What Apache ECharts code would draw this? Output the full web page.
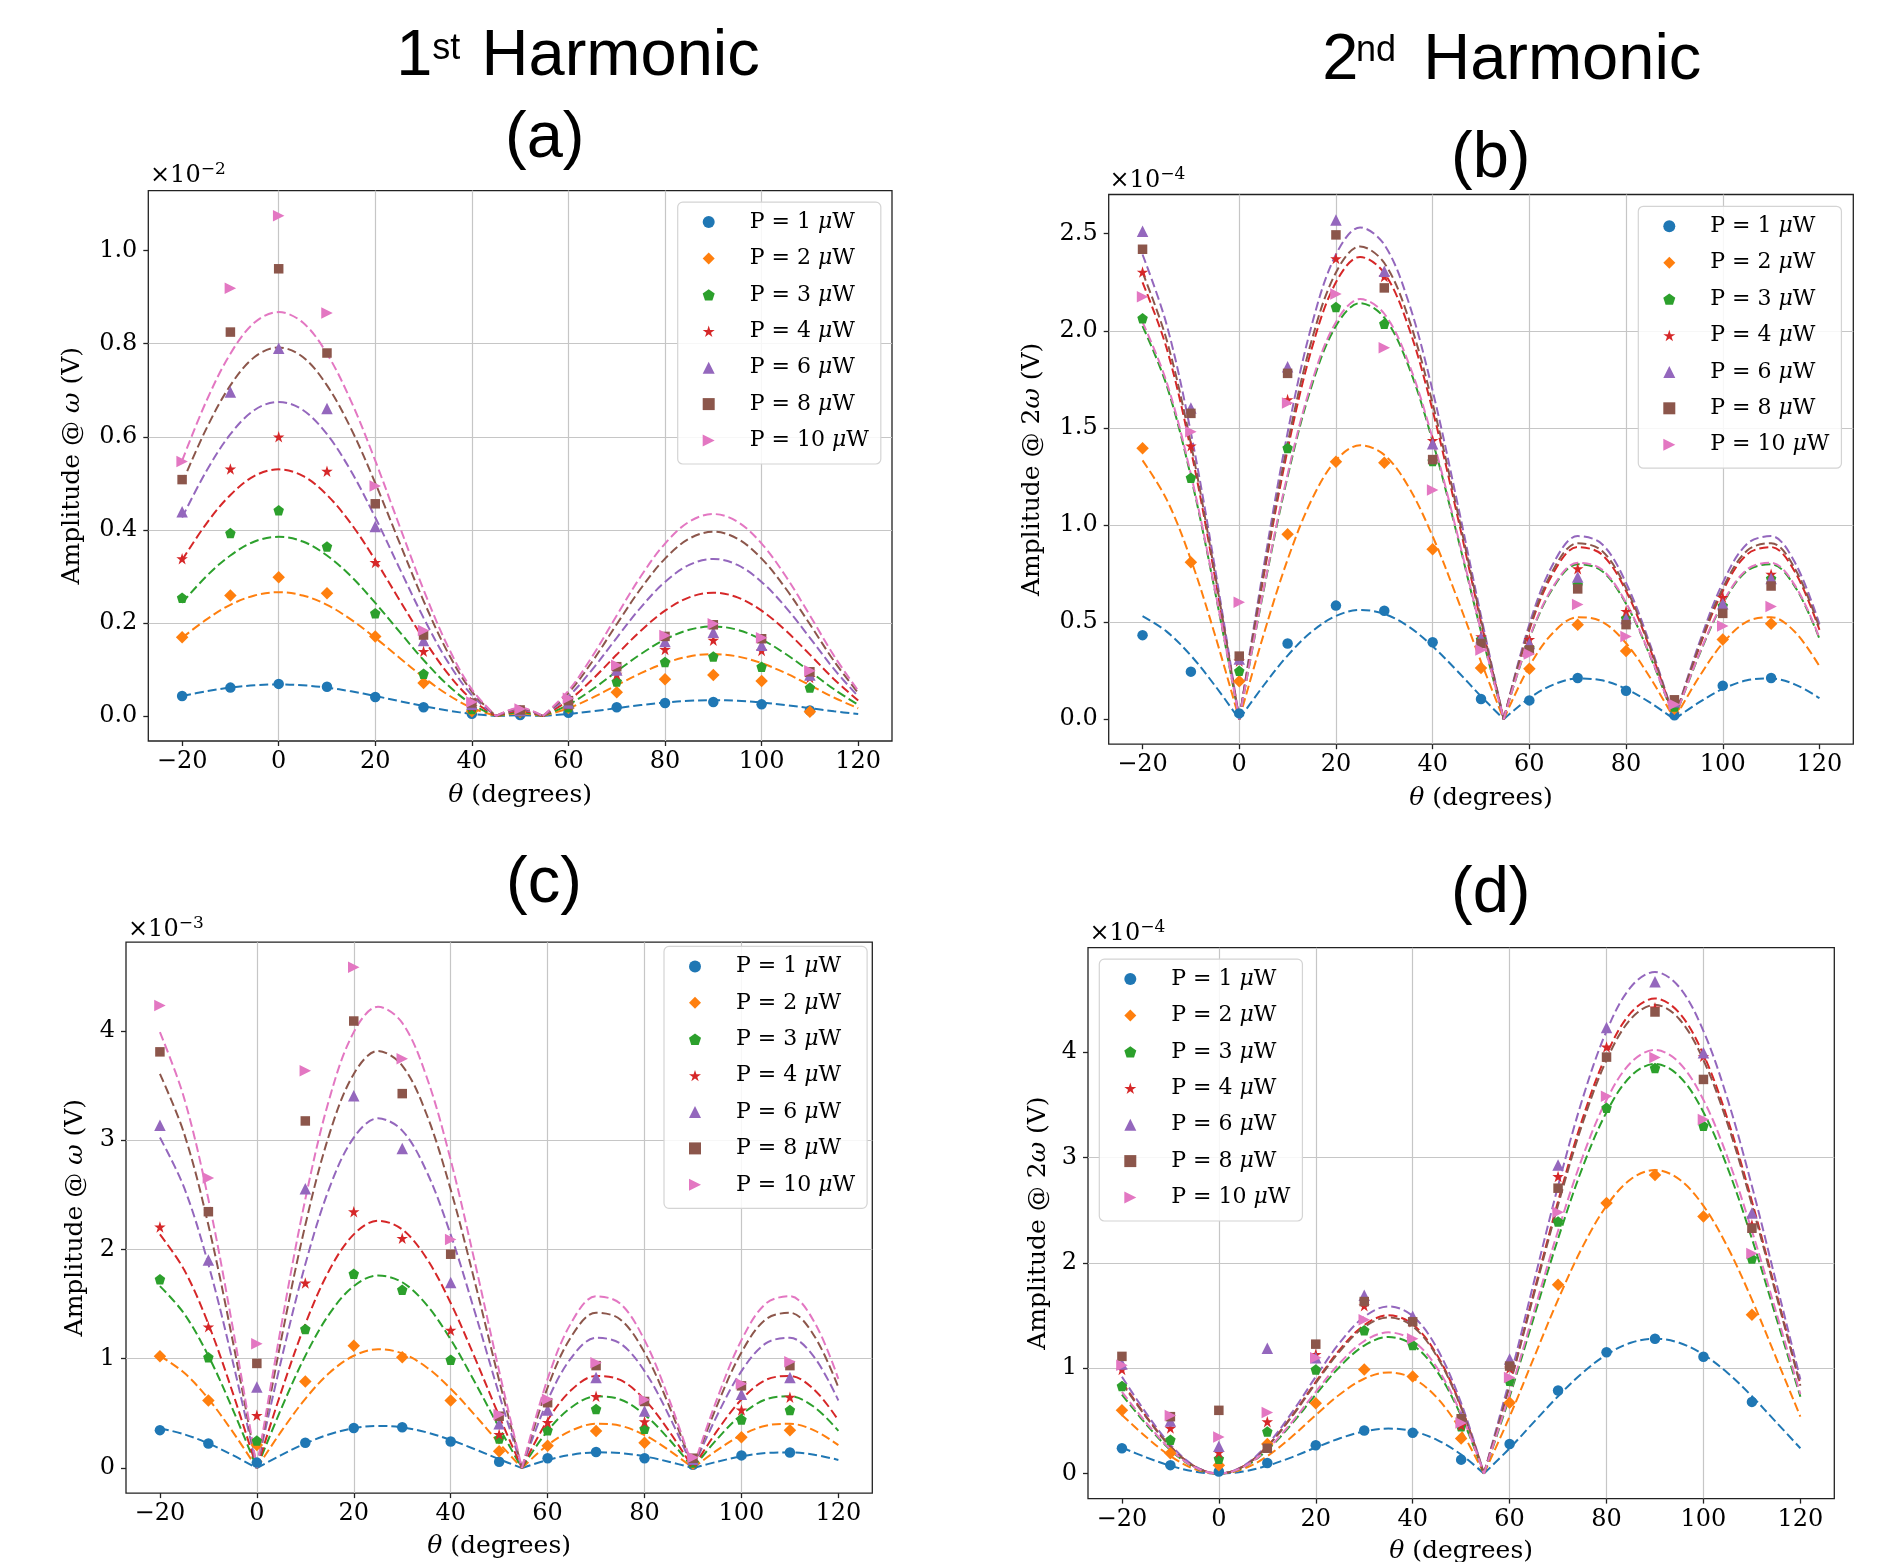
<!DOCTYPE html>
<html><head><meta charset="utf-8">
<script src="https://cdn.jsdelivr.net/npm/echarts@6/dist/echarts.min.js"></script>
<style>html,body{margin:0;padding:0;background:#fff}#c{width:1896px;height:1562px}</style>
</head><body><div id="c"></div>
<script>
const SERIES_NAMES = ['P = 1 μW','P = 2 μW','P = 3 μW','P = 4 μW','P = 6 μW','P = 8 μW','P = 10 μW'];
const THETA_PTS = [-20,-10,0,10,20,30,40,50,60,70,80,90,100,110];
const THETA_FIT = [-20,-15,-10,-5,0,5,10,15,20,25,30,35,40,45,50,54.7,60,65,70,75,80,85,90,95,100,105,110,115,120];
const X_TICKS = [-20,0,20,40,60,80,100,120];
const Y_TICKS_A = [0,0.2,0.4,0.6,0.8,1.0];
const Y_TICKS_B = [0,0.5,1,1.5,2,2.5];
const Y_TICKS_C = [0,1,2,3,4];
const Y_TICKS_D = [0,1,2,3,4];

// ---- panel (a): 1st harmonic, amplitude @ ω (×1e-2)
const ptsA_p1 = [.043,.061,.069,.063,.041,.019,.005,.002,.007,.019,.028,.030,.025,.012];
const ptsA_p2 = [.169,.259,.298,.264,.171,.071,.010,.008,.017,.051,.079,.088,.075,.009];
const ptsA_p3 = [.254,.393,.442,.364,.221,.091,.015,.010,.019,.074,.116,.128,.106,.061];
const ptsA_p4 = [.338,.531,.600,.526,.330,.139,.020,.010,.024,.090,.143,.163,.141,.083];
const ptsA_p6 = [.439,.696,.790,.661,.407,.162,.025,.012,.028,.099,.160,.180,.152,.088];
const ptsA_p8 = [.508,.825,.961,.780,.456,.174,.028,.013,.033,.106,.171,.196,.166,.095];
const ptsA_p10 = [.547,.919,1.075,.866,.494,.184,.030,.015,.038,.109,.173,.198,.168,.097];
const fitA_p1 = [.043,.053,.061,.066,.068,.066,.061,.053,.043,.032,.0213,.0118,.0045,0,.0014,0,.0043,.0101,.0169,.0235,.029,.0327,.034,.0327,.029,.0235,.0169,.0101,.0043];
const fitA_p2 = [.168,.207,.239,.259,.266,.259,.239,.207,.168,.1253,.0831,.046,.0176,0,.0056,0,.0166,.0396,.0662,.092,.1136,.128,.133,.128,.1136,.092,.0662,.0396,.0166];
const fitA_p3 = [.243,.300,.345,.375,.385,.375,.345,.300,.243,.1813,.1203,.0666,.0254,0,.0081,0,.0241,.0574,.0959,.1332,.1644,.1852,.1925,.1852,.1644,.1332,.0959,.0574,.0241];
const fitA_p4 = [.335,.413,.475,.516,.530,.516,.475,.413,.335,.2496,.1656,.0917,.035,0,.0111,0,.0331,.079,.132,.1834,.2263,.2549,.265,.2549,.2263,.1834,.132,.079,.0331];
const fitA_p6 = [.4266,.5258,.6055,.6575,.675,.6575,.6055,.5258,.4266,.3179,.2109,.1168,.0446,0,.0142,0,.0422,.1006,.1681,.2336,.2882,.3247,.3375,.3247,.2882,.2336,.1681,.1006,.0422];
const fitA_p8 = [.5005,.617,.7104,.7714,.792,.7714,.7104,.617,.5005,.373,.2475,.137,.0523,0,.0166,0,.0495,.118,.1972,.274,.3382,.381,.396,.381,.3382,.274,.1972,.118,.0495];
const fitA_p10 = [.5486,.6762,.7786,.8454,.868,.8454,.7786,.6762,.5486,.4088,.2713,.1502,.0573,0,.0182,0,.0543,.1293,.2161,.3003,.3706,.4175,.434,.4175,.3706,.3003,.2161,.1293,.0543];

// ---- panel (b): 2nd harmonic, amplitude @ 2ω (×1e-4)
const ptsB_p1 = [.433,.245,.03,.390,.585,.559,.396,.104,.097,.212,.147,.02,.173,.212];
const ptsB_p2 = [1.395,.808,.195,.953,1.326,1.321,.875,.264,.260,.487,.351,.054,.411,.491];
const ptsB_p3 = [2.065,1.244,.249,1.397,2.123,2.036,1.33,.41,.368,.693,.52,.065,.584,.725];
const ptsB_p4 = [2.303,1.408,.30,1.646,2.372,2.28,1.436,.426,.411,.775,.556,.09,.628,.747];
const ptsB_p6 = [2.513,1.603,.31,1.815,2.571,2.307,1.419,.42,.39,.732,.519,.09,.595,.725];
const ptsB_p8 = [2.420,1.575,.325,1.781,2.494,2.221,1.337,.39,.357,.671,.487,.10,.545,.686];
const ptsB_p10 = [2.175,1.480,.602,1.629,2.190,1.913,1.181,.357,.336,.591,.426,.076,.480,.580];
const fitB_p1 = [.5315,.451,.3277,.1723,0,.1723,.3277,.451,.5315,.5624,.5427,.4774,.3755,.2505,.1182,0,.1087,.1785,.2094,.2004,.156,.085,0,.085,.156,.2004,.2094,.1785,.1087];
const fitB_p2 = [1.333,1.131,.8218,.4321,0,.4321,.8218,1.131,1.333,1.4106,1.3612,1.1974,.9418,.6283,.2965,0,.2725,.4476,.5253,.5027,.3911,.2132,0,.2132,.3911,.5027,.5253,.4476,.2725];
const fitB_p3 = [2.0249,1.7181,1.2484,.6564,0,.6564,1.2484,1.7181,2.0249,2.1429,2.0678,1.819,1.4307,.9545,.4505,0,.414,.68,.7979,.7636,.5942,.3239,0,.3239,.5942,.7636,.7979,.68,.414];
const fitB_p4 = [2.2497,1.9088,1.3869,.7292,0,.7292,1.3869,1.9088,2.2497,2.3806,2.2972,2.0208,1.5895,1.0604,.5004,0,.4599,.7554,.8865,.8483,.6601,.3598,0,.3598,.6601,.8483,.8865,.7554,.4599];
const fitB_p6 = [2.393,2.0305,1.4754,.7757,0,.7757,1.4754,2.0305,2.393,2.5325,2.4437,2.1497,1.6908,1.1281,.5324,0,.4893,.8036,.943,.9025,.7022,.3828,0,.3828,.7022,.9025,.943,.8036,.4893];
const fitB_p8 = [2.3005,1.9521,1.4183,.7457,0,.7457,1.4183,1.9521,2.3005,2.4346,2.3493,2.0666,1.6255,1.0845,.5118,0,.4703,.7725,.9066,.8676,.675,.368,0,.368,.675,.8676,.9066,.7725,.4703];
const fitB_p10 = [2.0447,1.735,1.2606,.6628,0,.6628,1.2606,1.735,2.0447,2.1638,2.088,1.8368,1.4447,.9639,.4549,0,.418,.6866,.8058,.7711,.6,.3271,0,.3271,.6,.7711,.8058,.6866,.418];

// ---- panel (c): 1st harmonic (×1e-3)
const ptsC_p1 = [.347,.224,.05,.231,.366,.374,.243,.058,.089,.147,.089,.03,.116,.143];
const ptsC_p2 = [1.022,.617,.212,.791,1.119,1.014,.617,.154,.204,.339,.231,.04,.282,.347];
const ptsC_p3 = [1.728,1.014,.251,1.273,1.778,1.632,.991,.27,.347,.540,.359,.05,.444,.532];
const ptsC_p4 = [2.206,1.292,.482,1.693,2.345,2.102,1.261,.309,.417,.656,.424,.06,.532,.648];
const ptsC_p6 = [3.136,1.902,.741,2.554,3.406,2.924,1.697,.405,.532,.829,.521,.08,.675,.829];
const ptsC_p8 = [3.807,2.345,.957,3.175,4.089,3.425,1.956,.474,.598,.937,.609,.09,.752,.937];
const ptsC_p10 = [4.231,2.654,1.138,3.634,4.582,3.745,2.091,.49,.629,.964,.625,.096,.771,.972];
const fitC_p1 = [.3644,.3092,.2247,.1181,0,.1181,.2247,.3092,.3644,.3856,.3721,.3273,.2575,.1718,.0811,0,.0745,.1224,.1436,.1374,.1069,.0583,0,.0583,.1069,.1374,.1436,.1224,.0745];
const fitC_p2 = [1.0271,.8715,.6332,.3329,0,.3329,.6332,.8715,1.0271,1.0869,1.0488,.9226,.7257,.4842,.2285,0,.21,.3449,.4047,.3873,.3014,.1643,0,.1643,.3014,.3873,.4047,.3449,.21];
const fitC_p3 = [1.6643,1.4122,1.0261,.5395,0,.5395,1.0261,1.4122,1.6643,1.7612,1.6995,1.495,1.1759,.7845,.3702,0,.3403,.5589,.6558,.6276,.4884,.2662,0,.2662,.4884,.6276,.6558,.5589,.3403];
const fitC_p4 = [2.1372,1.8135,1.3176,.6928,0,.6928,1.3176,1.8135,2.1372,2.2617,2.1825,1.9199,1.5101,1.0075,.4754,0,.437,.7177,.8422,.806,.6271,.3419,0,.3419,.6271,.806,.8422,.7177,.437];
const fitC_p6 = [3.0227,2.5648,1.8636,.9798,0,.9798,1.8636,2.5648,3.0227,3.1988,3.0867,2.7153,2.1357,1.4249,.6724,0,.618,1.015,1.1911,1.1399,.887,.4835,0,.4835,.887,1.1399,1.1911,1.015,.618];
const fitC_p8 = [3.6051,3.059,2.2227,1.1686,0,1.1686,2.2227,3.059,3.6051,3.8152,3.6815,3.2385,2.5473,1.6995,.802,0,.7371,1.2106,1.4207,1.3596,1.0579,.5767,0,.5767,1.0579,1.3596,1.4207,1.2106,.7371];
const fitC_p10 = [3.9875,3.3834,2.4584,1.2925,0,1.2925,2.4584,3.3834,3.9875,4.2198,4.0719,3.582,2.8174,1.8797,.887,0,.8152,1.339,1.5713,1.5037,1.17,.6378,0,.6378,1.17,1.5037,1.5713,1.339,.8152];

// ---- panel (d): 2nd harmonic (×1e-4)
const ptsD_p1 = [.24,.08,.02,.10,.268,.408,.388,.132,.28,.788,1.152,1.28,1.108,.68];
const ptsD_p2 = [.60,.192,.08,.28,.668,.988,.92,.332,.672,1.792,2.568,2.832,2.44,1.508];
const ptsD_p3 = [.832,.32,.14,.40,.988,1.36,1.22,.448,.88,2.392,3.472,3.848,3.30,2.04];
const ptsD_p4 = [.988,.432,.20,.492,1.132,1.592,1.44,.46,1.0,2.82,4.048,4.42,3.96,2.36];
const ptsD_p6 = [1.04,.50,.26,1.188,1.10,1.692,1.492,.54,1.088,2.928,4.232,4.668,3.992,2.472];
const ptsD_p8 = [1.112,.54,.60,.24,1.228,1.632,1.44,.52,1.02,2.708,3.952,4.38,3.74,2.328];
const ptsD_p10 = [1.028,.552,.348,.58,1.10,1.46,1.28,.48,.912,2.48,3.58,3.948,3.36,2.088];
const fitD_p1 = [.2469,.1542,.0737,.0192,0,.0192,.0737,.1542,.2469,.3347,.4,.4266,.4022,.32,.18,0,.24,.488,.7337,.9542,1.129,1.2413,1.28,1.2413,1.129,.9542,.7337,.488,.24];
const fitD_p2 = [.5556,.347,.1659,.0432,0,.0432,.1659,.347,.5556,.7531,.9,.96,.9049,.72,.4049,0,.54,1.0981,1.6508,2.147,2.5402,2.793,2.88,2.793,2.5402,2.147,1.6508,1.0981,.54];
const fitD_p3 = [.75,.4685,.2239,.0583,0,.0583,.2239,.4685,.75,1.0167,1.215,1.2959,1.2216,.972,.5467,0,.729,1.4825,2.2286,2.8985,3.4292,3.7706,3.888,3.7706,3.4292,2.8985,2.2286,1.4825,.729];
const fitD_p4 = [.8696,.5432,.2597,.0676,0,.0676,.2597,.5432,.8696,1.1788,1.4088,1.5025,1.4164,1.127,.6338,0,.8453,1.7189,2.584,3.3607,3.9761,4.3719,4.508,4.3719,3.9761,3.3607,2.584,1.7189,.8453];
const fitD_p6 = [.9182,.5736,.2742,.0714,0,.0714,.2742,.5736,.9182,1.2447,1.4875,1.5865,1.4956,1.19,.6693,0,.8925,1.815,2.7284,3.5486,4.1983,4.6162,4.76,4.6162,4.1983,3.5486,2.7284,1.815,.8925];
const fitD_p8 = [.858,.536,.2562,.0667,0,.0667,.2562,.536,.858,1.1632,1.39,1.4825,1.3976,1.112,.6254,0,.834,1.696,2.5496,3.316,3.9231,4.3137,4.448,4.3137,3.9231,3.316,2.5496,1.696,.834];
const fitD_p10 = [.7755,.4844,.2316,.0603,0,.0603,.2316,.4844,.7755,1.0512,1.2563,1.3399,1.2631,1.005,.5652,0,.7538,1.5328,2.3043,2.9969,3.5456,3.8986,4.02,3.8986,3.5456,2.9969,2.3043,1.5328,.7538];

// ---------------- styling / layout ----------------
const SERIF = 'DejaVu Serif';
const SANS = 'Liberation Sans';
const COLORS = ['#1f77b4','#ff7f0e','#2ca02c','#d62728','#9467bd','#8c564b','#e377c2'];
const PENT = 'path://M0,-1 L0.951,-0.309 L0.588,0.809 L-0.588,0.809 L-0.951,-0.309 Z';
const STAR = 'path://M0,-1 L0.2245,-0.309 L0.951,-0.309 L0.363,0.118 L0.588,0.809 L0,0.382 L-0.588,0.809 L-0.363,0.118 L-0.951,-0.309 L-0.2245,-0.309 Z';
const TRI_UP = 'path://M0,-1 L1,1 L-1,1 Z';
const TRI_RIGHT = 'path://M1,0 L-1,-1 L-1,1 Z';
const SYMBOLS = ['circle','diamond',PENT,STAR,TRI_UP,'rect',TRI_RIGHT];
const SIZES = [10.5,12.5,10.5,11.5,11.5,9.5,11.5];

const panels = [
  {grid:{left:148.3,top:190.6,width:743.7,height:550.4}, ymin:-0.0537, ymax:1.129, ystep:0.2, yticks:Y_TICKS_A, ydec:1,
   yname:'Amplitude @ {i|ω} (V)', ynameGap:63, xnameGap:41.5,
   pts:[ptsA_p1,ptsA_p2,ptsA_p3,ptsA_p4,ptsA_p6,ptsA_p8,ptsA_p10],
   fits:[fitA_p1,fitA_p2,fitA_p3,fitA_p4,fitA_p6,fitA_p8,fitA_p10], cusps:[45,54.7],
   legend:{left:677.7,top:202.1}, exp:'−2', expX:150, expY:160.9},
  {grid:{left:1108.7,top:194.5,width:744.6,height:549.7}, ymin:-0.1286, ymax:2.702, ystep:0.5, yticks:Y_TICKS_B, ydec:1,
   yname:'Amplitude @ 2{i|ω} (V)', ynameGap:63.5, xnameGap:41.5,
   pts:[ptsB_p1,ptsB_p2,ptsB_p3,ptsB_p4,ptsB_p6,ptsB_p8,ptsB_p10],
   fits:[fitB_p1,fitB_p2,fitB_p3,fitB_p4,fitB_p6,fitB_p8,fitB_p10], cusps:[0,54.7,90],
   legend:{left:1638.3,top:206.3}, exp:'−4', expX:1109.5, expY:166.2},
  {grid:{left:126,top:942.2,width:746.3,height:550.9}, ymin:-0.229, ymax:4.81, ystep:1, yticks:Y_TICKS_C, ydec:0,
   yname:'Amplitude @ {i|ω} (V)', ynameGap:38.5, xnameGap:41,
   pts:[ptsC_p1,ptsC_p2,ptsC_p3,ptsC_p4,ptsC_p6,ptsC_p8,ptsC_p10],
   fits:[fitC_p1,fitC_p2,fitC_p3,fitC_p4,fitC_p6,fitC_p8,fitC_p10], cusps:[0,54.7,90],
   legend:{left:664,top:946.4}, exp:'−3', expX:128, expY:914.7},
  {grid:{left:1088,top:947.7,width:746.3,height:550.9}, ymin:-0.2375, ymax:4.99, ystep:1, yticks:Y_TICKS_D, ydec:0,
   yname:'Amplitude @ 2{i|ω} (V)', ynameGap:37, xnameGap:40,
   pts:[ptsD_p1,ptsD_p2,ptsD_p3,ptsD_p4,ptsD_p6,ptsD_p8,ptsD_p10],
   fits:[fitD_p1,fitD_p2,fitD_p3,fitD_p4,fitD_p6,fitD_p8,fitD_p10], cusps:[54.7],
   legend:{left:1099.3,top:959.1}, exp:'−4', expX:1089.5, expY:918.7}
];

function splitAtCusps(xs, ys, cusps) {
  const out = []; let cur = [];
  for (let i = 0; i < xs.length; i++) {
    cur.push([xs[i], ys[i]]);
    if (cusps.indexOf(xs[i]) >= 0 && i > 0 && i < xs.length - 1) { out.push(cur); cur = [[xs[i], ys[i]]]; }
  }
  out.push(cur);
  return out;
}
const fmtX = v => (v < 0 ? '\u2212' + Math.abs(v) : String(v));

const grids = [], xAxes = [], yAxes = [], series = [], legends = [], graphics = [];
const tickLine = {color:'#222', width:1.3};
panels.forEach((p, pi) => {
  grids.push(Object.assign({show:true, borderColor:'#222', borderWidth:1.3, backgroundColor:'rgba(0,0,0,0)', outerBoundsMode:'none', containLabel:false}, p.grid));
  xAxes.push({type:'value', gridIndex:pi, position:'bottom', min:-27, max:127, minInterval:20, maxInterval:20,
    name:'{i|θ} (degrees)', nameLocation:'middle', nameGap:p.xnameGap,
    nameTextStyle:{fontFamily:SERIF, fontSize:25, color:'#000', rich:{i:{fontFamily:SERIF, fontStyle:'italic', fontSize:25, color:'#000'}}},
    axisLine:{show:false, onZero:false}, axisTick:{show:true, inside:false, length:5, lineStyle:tickLine, customValues:X_TICKS},
    axisLabel:{customValues:X_TICKS, formatter:fmtX, fontFamily:SERIF, fontSize:24, color:'#000', margin:9},
    splitLine:{show:true, showMinLine:false, showMaxLine:false, lineStyle:{color:'#c6c6c6', width:1.2}}});
  yAxes.push({type:'value', gridIndex:pi, position:'left', min:p.ymin, max:p.ymax, minInterval:p.ystep, maxInterval:p.ystep,
    name:p.yname, nameLocation:'middle', nameGap:p.ynameGap, nameRotate:90,
    nameTextStyle:{fontFamily:SERIF, fontSize:25, color:'#000', rich:{i:{fontFamily:SERIF, fontStyle:'italic', fontSize:25, color:'#000'}}},
    axisLine:{show:false, onZero:false}, axisTick:{show:true, inside:false, length:5, lineStyle:tickLine, customValues:p.yticks},
    axisLabel:{customValues:p.yticks, formatter:v => v.toFixed(p.ydec), fontFamily:SERIF, fontSize:24, color:'#000', margin:11},
    splitLine:{show:true, showMinLine:false, showMaxLine:false, lineStyle:{color:'#c6c6c6', width:1.2}}});
  for (let k = 0; k < 7; k++) {
    splitAtCusps(THETA_FIT, p.fits[k], p.cusps).forEach((d, si) => {
      series.push({type:'line', name:'fit_' + pi + '_' + k + '_' + si, xAxisIndex:pi, yAxisIndex:pi, data:d,
        smooth:0.35, symbol:'none', showSymbol:false, silent:true, emphasis:{disabled:true}, z:2,
        lineStyle:{color:COLORS[k], width:2, type:[9,4]}});
    });
    series.push({type:'scatter', name:SERIES_NAMES[k], xAxisIndex:pi, yAxisIndex:pi,
      data:THETA_PTS.map((t, i) => [t, p.pts[k][i]]), symbol:SYMBOLS[k], symbolSize:SIZES[k],
      itemStyle:{color:COLORS[k], opacity:1}, silent:true, emphasis:{disabled:true}, z:3});
  }
  legends.push({left:p.legend.left, top:p.legend.top, orient:'vertical', itemWidth:12, itemHeight:12, itemGap:14.4,
    padding:[9,12,12.5,25], backgroundColor:'rgba(255,255,255,0.85)', borderColor:'#d4d4d4', borderWidth:1.2, borderRadius:5,
    selectedMode:false, data:SERIES_NAMES.map((n, k) => ({name:n, icon:SYMBOLS[k]})),
    formatter: n => '{g| }{r|' + n.replace(' μW', ' ') + '}{i|μ}{r|W}',
    textStyle:{rich:{g:{width:30, lineHeight:26}, r:{fontFamily:SERIF, fontSize:22, lineHeight:26, color:'#000'},
      i:{fontFamily:SERIF, fontStyle:'italic', fontSize:22, lineHeight:26, color:'#000'}}}});
  graphics.push({type:'text', x:p.expX, y:p.expY, silent:true, style:{text:'{a|×10}{b|' + p.exp + '}', verticalAlign:'top', fill:'#000',
    rich:{a:{fontFamily:SERIF, fontSize:24, lineHeight:30, fill:'#000'}, b:{fontFamily:SERIF, fontSize:17, lineHeight:14, verticalAlign:'top', fill:'#000'}}}});
});

const T = (text, x, y, size) => ({type:'text', x, y, silent:true, style:{text, fontFamily:SANS, fontSize:size, fill:'#000', verticalAlign:'middle', align:'left'}});
graphics.push(T('1', 396.2, 57.5, 65), T('st', 432.3, 49, 36), T('Harmonic', 481.6, 57.5, 65));
graphics.push(T('2', 1322.2, 60.8, 65), T('nd', 1356, 50.6, 36), T('Harmonic', 1423.2, 60.8, 65));
graphics.push(T('(a)', 505, 138.8, 65), T('(b)', 1451, 158.8, 65), T('(c)', 506, 883.9, 65), T('(d)', 1451, 893.9, 65));

const chart = echarts.init(document.getElementById('c'), null, {renderer:'canvas', width:1896, height:1562});
chart.setOption({animation:false, backgroundColor:'#fff', grid:grids, xAxis:xAxes, yAxis:yAxes, legend:legends, series:series, graphic:graphics});
</script></body></html>
